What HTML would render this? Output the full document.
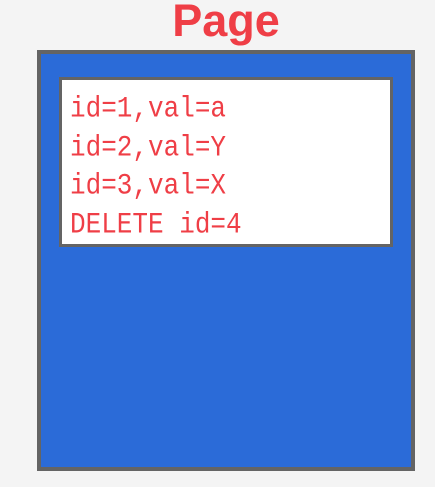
<!DOCTYPE html>
<html><head><style>
html,body{margin:0;padding:0;width:435px;height:487px;overflow:hidden;}
body{background:#f4f4f4;position:relative;}
.title{position:absolute;left:0;width:452px;top:-4px;text-align:center;font-family:"Liberation Sans",sans-serif;font-weight:bold;font-size:45px;color:#ef3e46;line-height:50px;}
.outer{position:absolute;left:37px;top:50px;width:370px;height:413px;background:#2b6bd8;border:4px solid #646464;}
.inner{position:absolute;left:59px;top:77px;width:328px;height:164px;background:#fff;border:3px solid #646464;}
.txt{position:absolute;left:70px;top:90px;font-family:"Liberation Mono",monospace;font-size:26px;line-height:33.5px;color:#ef3e46;white-space:pre;transform:scaleY(1.15);transform-origin:0 0;}
</style></head><body>
<div class="title">Page</div>
<div class="outer"></div>
<div class="inner"></div>
<div class="txt">id=1,val=a
id=2,val=Y
id=3,val=X
DELETE id=4</div>
</body></html>
